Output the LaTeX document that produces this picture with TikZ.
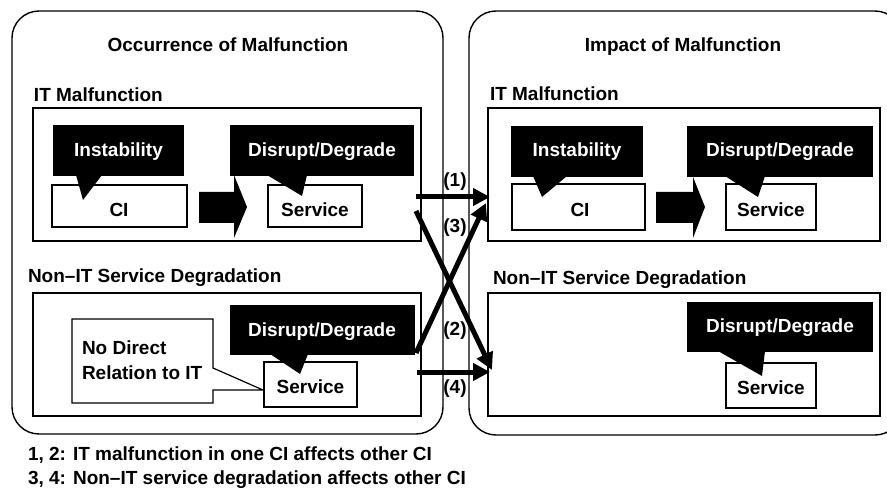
\documentclass[tikz,border=0pt]{standalone}
\usepackage{fontspec}
\setmainfont{Liberation Sans}
\usetikzlibrary{arrows.meta}
\begin{document}
\begin{tikzpicture}[x=1pt,y=-1pt,
  every node/.style={inner sep=0pt, outer sep=0pt},
  frame/.style={draw, line width=1.4pt, rounded corners=27pt},
  panel/.style={draw, line width=1.2pt, anchor=north west},
  cibox/.style={draw, fill=white, line width=1.2pt, anchor=north west},
  balloon/.style={fill=black, anchor=north west},
  lbl/.style={font=\fontsize{19pt}{22pt}\selectfont\bfseries, anchor=base},
  lblw/.style={lbl, anchor=base west},
  wlbl/.style={lbl, text=white},
  flow/.style={line width=5pt, -{Triangle[length=17pt,width=17pt]}},
  blockarrow/.style={fill=black}
]
\useasboundingbox (0,0) rectangle (887,489);
\clip (0,0) rectangle (887,489);

% outer frames
\draw[frame] (12,11) rectangle (443,434);
\draw[frame] (469,11) rectangle (902,435);

% headings
\node[lbl] (hOcc) at (228,52) {Occurrence of Malfunction};
\node[lbl] (hImp) at (683,52) {Impact of Malfunction};
\node[lblw] (hItL) at (34,102) {IT Malfunction};
\node[lblw] (hItR) at (490,101) {IT Malfunction};
\node[lblw] (hNtL) at (28,283) {Non–IT Service Degradation};
\node[lblw] (hNtR) at (493,285) {Non–IT Service Degradation};

% panels
\node[panel, minimum width=388pt, minimum height=133pt] (itL) at (33,108) {};
\node[panel, minimum width=392pt, minimum height=133pt] (itR) at (488,108) {};
\node[panel, minimum width=388pt, minimum height=123pt] (ntL) at (33,293) {};
\node[panel, minimum width=392pt, minimum height=123pt] (ntR) at (488,293) {};

% ---- left IT malfunction ----
\node[cibox, minimum width=135pt, minimum height=42pt] (ciL) at (52,185) {};
\node[cibox, minimum width=94pt, minimum height=42pt] (svL) at (268,185) {};
\node[balloon, minimum width=131pt, minimum height=51pt] (instL) at (53,125) {};
\fill (76,175) -- (102,175) -- (83,200) -- cycle;
\node[balloon, minimum width=184pt, minimum height=51pt] (disL) at (230,125) {};
\fill (267,175) -- (307,175) -- (302,196) -- cycle;
\fill[blockarrow] (199,192) -- (234,192) -- (234,175) -- (247,207) -- (234,238) -- (234,223) -- (199,223) -- cycle;
\node[wlbl] (tInstL) at (118.5,157) {Instability};
\node[wlbl] (tDisL) at (322,157) {Disrupt/Degrade};
\node[lbl] (tCiL) at (119,217) {CI};
\node[lbl] (tSvL) at (315,217) {Service};

% ---- right IT malfunction ----
\node[cibox, minimum width=133pt, minimum height=46pt] (ciR) at (512,184) {};
\node[cibox, minimum width=90pt, minimum height=46pt] (svR) at (726,184) {};
\node[balloon, minimum width=132pt, minimum height=51pt] (instR) at (511,126) {};
\fill (533,176) -- (567,176) -- (542,197) -- cycle;
\node[balloon, minimum width=186pt, minimum height=51pt] (disR) at (687,126) {};
\fill (725,176) -- (765,176) -- (758,197) -- cycle;
\fill[blockarrow] (656,192) -- (693,192) -- (693,177) -- (705,207) -- (693,238) -- (693,223) -- (656,223) -- cycle;
\node[wlbl] (tInstR) at (577,157) {Instability};
\node[wlbl] (tDisR) at (780,157) {Disrupt/Degrade};
\node[lbl] (tCiR) at (580,217) {CI};
\node[lbl] (tSvR) at (771,217) {Service};

% ---- left non-IT degradation ----
\draw[line width=1.2pt, fill=white] (72,319) -- (213,319) -- (213,368) -- (263,390)
  -- (213,390) -- (213,403) -- (72,403) -- cycle;
\node[cibox, minimum width=93pt, minimum height=45pt] (svNL) at (264,362) {};
\node[balloon, minimum width=185pt, minimum height=50pt] (disNL) at (230,305) {};
\fill (270,354) -- (308,354) -- (300,374) -- cycle;
\node[wlbl] (tDisNL) at (322,337) {Disrupt/Degrade};
\node[lbl] (tSvNL) at (310.5,393) {Service};
\node[lblw] (tNd1) at (82,354) {No Direct};
\node[lblw] (tNd2) at (82,379) {Relation to IT};

% ---- right non-IT degradation ----
\node[cibox, minimum width=90pt, minimum height=45pt] (svNR) at (726,363) {};
\node[balloon, minimum width=186pt, minimum height=50pt] (disNR) at (687,302) {};
\fill (718,351) -- (765,351) -- (762,376) -- cycle;
\node[wlbl] (tDisNR) at (780,333) {Disrupt/Degrade};
\node[lbl] (tSvNR) at (771,394) {Service};

% ---- propagation arrows ----
\coordinate (s1) at (416,197);
\coordinate (e1) at (490,197);
\coordinate (s2) at (416,211);
\coordinate (e2) at (492,370);
\coordinate (s3) at (416,353);
\coordinate (e3) at (486,203);
\coordinate (s4) at (417,372);
\coordinate (e4) at (490,372);
\draw[flow] (s1) -- (e1);
\draw[flow] (s2) -- (e2);
\draw[flow] (s3) -- (e3);
\draw[flow] (s4) -- (e4);
\node[lbl] (n1) at (455,187) {(1)};
\node[lbl] (n3) at (455,233) {(3)};
\node[lbl] (n2) at (455,336) {(2)};
\node[lbl] (n4) at (455,393) {(4)};

% legend
\node[lblw] (leg1) at (28,460) {1, 2: IT malfunction in one CI affects other CI};
\node[lblw] (leg2) at (28,484) {3, 4: Non–IT service degradation affects other CI};
\end{tikzpicture}
\end{document}
